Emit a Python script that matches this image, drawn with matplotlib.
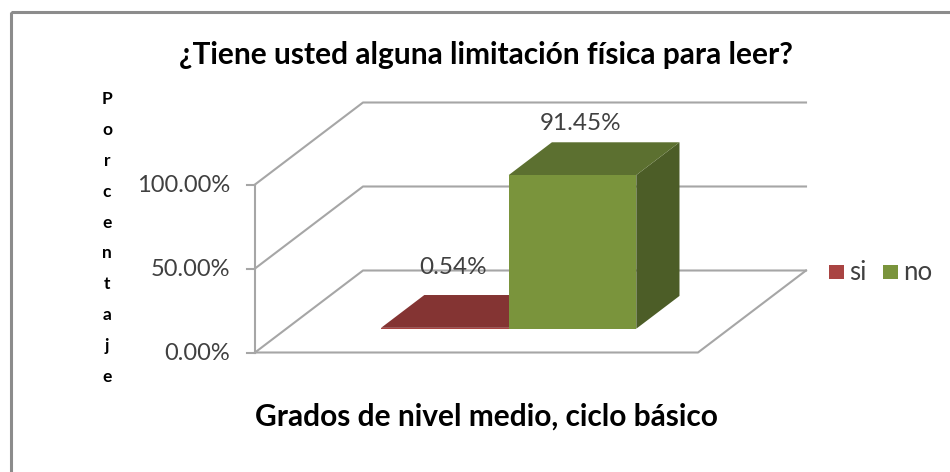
# grafico de barras 3D (estilo excel) dibujado con proyeccion oblicua
import matplotlib
matplotlib.use('Agg')
import matplotlib.pyplot as plt
from matplotlib.patches import Polygon, Rectangle

# Datos
series = ['si', 'no']
valores = [0.54, 91.45]
etiquetas = ['0.54%', '91.45%']
ticks = [0, 50, 100]
tick_labels = ['0.00%', '50.00%', '100.00%']
titulo = '¿Tiene usted alguna limitación física para leer?'
eje_x = 'Grados de nivel medio, ciclo básico'
eje_y = 'Porcentaje'

# Colores
frente = ['#a94442', '#7a943c']
tapa = ['#843433', '#5c7030']
lado = ['#6e2c2b', '#4c5d27']
gris = '#a6a6a6'
texto = '#404040'
plt.rcParams['font.family'] = ['Lato', 'DejaVu Sans']

# Escala de la caja (pixeles de la imagen)
x0, x1, y0 = 255, 698, 352.5
dx, dy = 108, 82
py = 1.68


def proj(x, z, v):
    # x: 0-1 a lo ancho, z: 0-1 de fondo, v: valor en %
    return (x0 + (x1 - x0) * x + dx * z, y0 - dy * z - py * v)


fig = plt.figure(figsize=(9.5, 4.72), dpi=100)
ax = fig.add_axes([0, 0, 1, 1])
ax.set_xlim(0, 950)
ax.set_ylim(472, 0)
ax.axis('off')

# Marco
ax.add_patch(Rectangle((10.5, 11.5), 960, 480, fill=False, ec='#8c8c8c', lw=2.2))

# Paredes y reticula
for t, lab in zip(ticks, tick_labels):
    a = proj(0, 0, t)
    b = proj(0, 1, t)
    c = proj(1, 1, t)
    ax.plot([a[0], b[0], c[0]], [a[1], b[1], c[1]], color=gris, lw=1.5)
    ax.plot([a[0] - 8, a[0]], [a[1], a[1]], color=gris, lw=1.5)
    ax.text(a[0] - 25, a[1] + 1, lab, ha='right', va='center', fontsize=17, color=texto)
a = proj(0, 0, ticks[0])
b = proj(0, 0, ticks[-1])
ax.plot([a[0], b[0]], [a[1], b[1]], color=gris, lw=1.5)
c = proj(1, 0, 0)
d = proj(1, 1, 0)
ax.plot([a[0], c[0], d[0]], [a[1], c[1], d[1]], color=gris, lw=1.5)

# Barras
ancho = 0.288
xs = [0.502 - ancho, 0.502]
z0, z1 = 0.29, 0.69
sube = [44, 35]
corre = [13, 14]
for i, v in enumerate(valores):
    xa, xb = xs[i], xs[i] + ancho
    ax.add_patch(Polygon([proj(xb, z0, 0), proj(xb, z1, 0), proj(xb, z1, v), proj(xb, z0, v)],
                         fc=lado[i], ec='none', zorder=3 + i))
    ax.add_patch(Polygon([proj(xa, z0, v), proj(xb, z0, v), proj(xb, z1, v), proj(xa, z1, v)],
                         fc=tapa[i], ec='none', zorder=3 + i))
    ax.add_patch(Polygon([proj(xa, z0, 0), proj(xb, z0, 0), proj(xb, z0, v), proj(xa, z0, v)],
                         fc=frente[i], ec='none', zorder=3 + i))
    p = proj(xa + ancho / 2, (z0 + z1) / 2, v)
    ax.text(p[0] - corre[i], p[1] - sube[i], etiquetas[i], ha='center', va='center',
            fontsize=17.5, color=texto, zorder=6)

# Textos
ax.text(486, 55, titulo, ha='center', va='center', fontsize=21.5, fontweight='bold', color='black')
ax.text(486, 417, eje_x, ha='center', va='center', fontsize=21.5, fontweight='bold', color='black')
ax.text(107, 238, '\n'.join(eje_y), ha='center', va='center', fontsize=12.5, fontweight='bold',
        color='black', linespacing=2.15)

# Leyenda
lx = [829, 883]
for i, s in enumerate(series):
    ax.add_patch(Rectangle((lx[i], 265), 15, 14, fc=frente[i], ec='none'))
    ax.text(lx[i] + 20, 273, s, ha='left', va='center', fontsize=18.5, color=texto)

fig.savefig('out.png', dpi=100)
